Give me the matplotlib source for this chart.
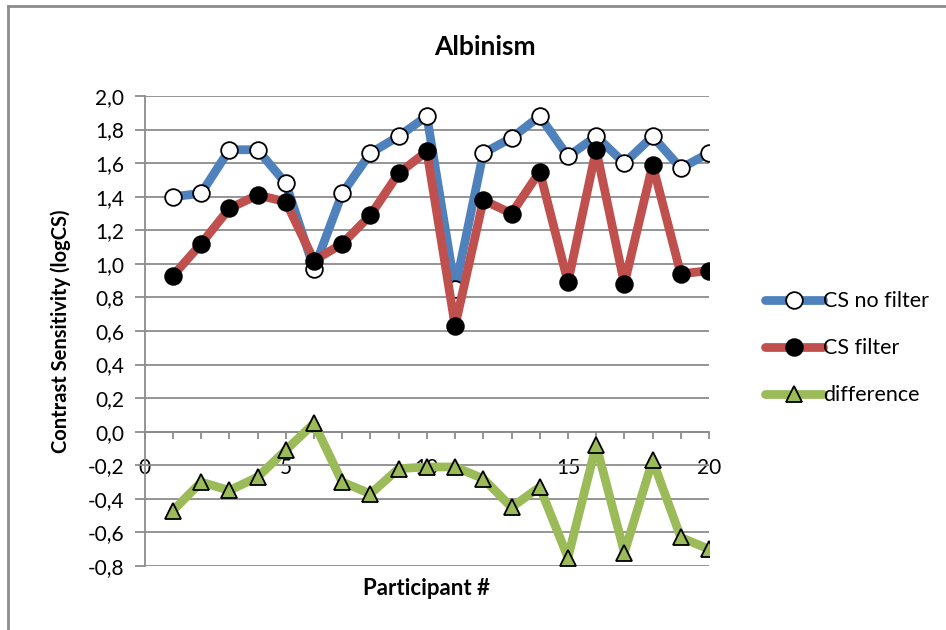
import matplotlib

matplotlib.use("Agg")
import matplotlib.pyplot as plt
from matplotlib.lines import Line2D
from matplotlib.ticker import FuncFormatter, MultipleLocator

plt.rcParams["font.family"] = ["Lato", "DejaVu Sans"]

participant = list(range(1, 21))
cs_no_filter = [1.40, 1.42, 1.68, 1.68, 1.48, 0.97, 1.42, 1.66, 1.76, 1.88,
                0.85, 1.66, 1.75, 1.88, 1.64, 1.76, 1.60, 1.76, 1.57, 1.66]
cs_filter = [0.93, 1.12, 1.33, 1.41, 1.37, 1.02, 1.12, 1.29, 1.54, 1.67,
             0.63, 1.38, 1.30, 1.55, 0.89, 1.68, 0.88, 1.59, 0.94, 0.96]
difference = [-0.47, -0.30, -0.35, -0.27, -0.11, 0.05, -0.30, -0.37, -0.22, -0.21,
              -0.21, -0.28, -0.45, -0.33, -0.75, -0.08, -0.72, -0.17, -0.63, -0.70]

BLUE, RED, GREEN = "#4F81BD", "#C0504D", "#9BBB59"
GRID = "#8c8c8c"

fig = plt.figure(figsize=(9.46, 6.3), dpi=100)
ax = fig.add_axes([0.153, 0.1016, 0.5965, 0.746])

series = [
    (cs_no_filter, BLUE, "o", "white", "CS no filter"),
    (cs_filter, RED, "o", "black", "CS filter"),
    (difference, GREEN, "^", GREEN, "difference"),
]
for vals, color, mk, face, lab in series:
    ax.plot(participant, vals, color=color, lw=6.3, marker=mk, ms=12,
            mfc=face, mec="black", mew=1.3, label=lab, zorder=3,
            solid_joinstyle="round", solid_capstyle="round")

ax.set_xlim(0, 20)
ax.set_ylim(-0.8, 2.0)
ax.yaxis.set_major_locator(MultipleLocator(0.2))
ax.yaxis.set_major_formatter(FuncFormatter(lambda v, p: f"{v:.1f}".replace(".", ",").replace("-0,0", "0,0")))
ax.grid(axis="y", color=GRID, lw=1.3, zorder=0)

ax.spines["left"].set_position(("data", 0))
ax.spines["bottom"].set_position(("data", 0))
for s in ("top", "right"):
    ax.spines[s].set_visible(False)
ax.spines["left"].set_color(GRID)
ax.spines["bottom"].set_color(GRID)
ax.spines["left"].set_linewidth(1.3)
ax.spines["bottom"].set_linewidth(1.3)

ax.xaxis.set_major_locator(MultipleLocator(5))
ax.xaxis.set_minor_locator(MultipleLocator(1))
ax.xaxis.set_major_formatter(FuncFormatter(lambda v, p: f"{int(v)}"))
ax.tick_params(axis="x", which="both", direction="out", length=5, width=1.3,
               color=GRID, labelsize=15, pad=14)
ax.tick_params(axis="y", direction="out", length=7, width=1.3, color=GRID,
               labelsize=15, pad=8)

fig.text(0.513, 0.925, "Albinism", fontsize=19, fontweight="bold",
         ha="center", va="center")
ax.set_ylabel("Contrast Sensitivity (logCS)", fontsize=14.5, fontweight="bold")
ax.set_xlabel("Participant #", fontsize=16, fontweight="bold")
ax.xaxis.set_label_coords(0.5, -0.025)
ax.yaxis.set_label_coords(-0.13, 0.5)

handles = [Line2D([], [], color=c, lw=6.3, marker=m, ms=12, mfc=f, mec="black", mew=1.3,
                  solid_capstyle="round")
           for _, c, m, f, _ in series]
fig.legend(handles, [s[4] for s in series], loc="center left",
           bbox_to_anchor=(0.788, 0.447), frameon=False, fontsize=15.5,
           handlelength=2.7, handletextpad=0.0, labelspacing=1.25)

# chart frame
fig.add_artist(Line2D([0.0085, 1.0], [0.990, 0.990], color=GRID, lw=2))
fig.add_artist(Line2D([0.0085, 0.0085], [0.0, 0.990], color=GRID, lw=2))

fig.savefig("out.png", dpi=100)
